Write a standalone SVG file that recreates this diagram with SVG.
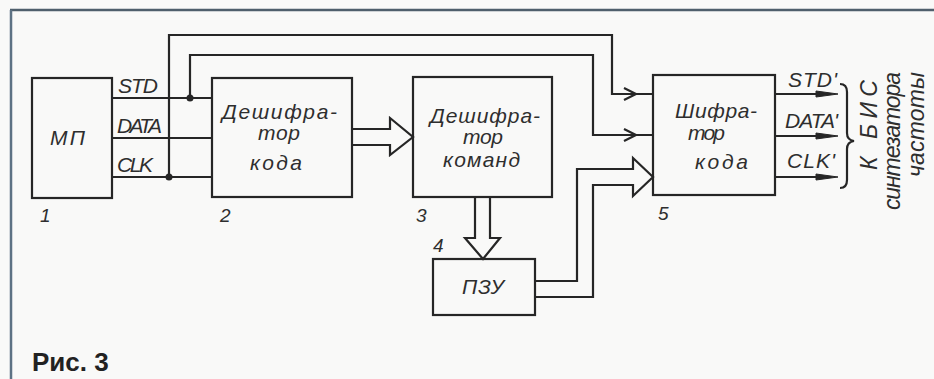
<svg xmlns="http://www.w3.org/2000/svg" width="934" height="379" viewBox="0 0 934 379">
<style>
.box{fill:none;stroke:#262626;stroke-width:2.2}
.ln{fill:none;stroke:#262626;stroke-width:2.2;stroke-linejoin:miter}
.hw{font-family:"Liberation Sans","DejaVu Sans",sans-serif;font-style:italic;font-size:21px;fill:#2e2e2e}
.vt{font-family:"Liberation Sans","DejaVu Sans",sans-serif;font-style:italic;font-size:23px;fill:#2e2e2e}
.num{font-family:"Liberation Sans","DejaVu Sans",sans-serif;font-style:italic;font-size:19px;fill:#2e2e2e}
.dot{fill:#262626}
.fa{fill:#262626;stroke:#262626;stroke-width:1}
</style>
<rect x="0" y="0" width="934" height="379" fill="#f9f9f8"/>
<g id="frame">
<line x1="10" y1="10" x2="934" y2="10" stroke="#4f5f6c" stroke-width="2.5"/>
<line x1="11" y1="10" x2="11" y2="379" stroke="#5d7284" stroke-width="2.5"/>
</g>
<g id="mp">
<rect class="box" x="32" y="78" width="80" height="120"/>
<text class="hw" x="50" y="145" textLength="35">МП</text>
<text class="num" x="40" y="222">1</text>
</g>
<g id="dec-code">
<rect class="box" x="212" y="78" width="140" height="119"/>
<text class="hw" x="222" y="119" textLength="115">Дешифра-</text>
<text class="hw" x="258" y="140" textLength="42">тор</text>
<text class="hw" x="250" y="170" textLength="52">кода</text>
<text class="num" x="220" y="222">2</text>
</g>
<g id="dec-cmd">
<rect class="box" x="413" y="77" width="139" height="120"/>
<text class="hw" x="430" y="123" textLength="110">Дешифра-</text>
<text class="hw" x="463" y="144" textLength="40">тор</text>
<text class="hw" x="443" y="167" textLength="77">команд</text>
<text class="num" x="416" y="222">3</text>
</g>
<g id="rom">
<rect class="box" x="433" y="259" width="102" height="56"/>
<text class="hw" x="462" y="294" textLength="42">ПЗУ</text>
<text class="num" x="433" y="252">4</text>
</g>
<g id="enc">
<rect class="box" x="653" y="75" width="122" height="120"/>
<text class="hw" x="675" y="118" textLength="82">Шифра-</text>
<text class="hw" x="688" y="140" textLength="37">тор</text>
<text class="hw" x="695" y="169" textLength="53">кода</text>
<text class="num" x="658" y="220">5</text>
</g>
<g id="connectors">
<line class="ln" x1="112" y1="98" x2="212" y2="98"/>
<line class="ln" x1="112" y1="138" x2="212" y2="138"/>
<line class="ln" x1="112" y1="177" x2="212" y2="177"/>
<text class="hw" x="118" y="93" textLength="40">STD</text>
<text class="hw" x="117" y="133" textLength="45">DATA</text>
<text class="hw" x="117" y="172" textLength="36">CLK</text>
<polyline class="ln" points="169,177 169,35 612,35 612,94 653,94"/>
<polyline class="ln" points="190,98 190,55 593,55 593,135 653,135"/>
<circle class="dot" cx="169" cy="177" r="3.5"/>
<circle class="dot" cx="190" cy="98" r="3.5"/>
<polyline class="ln" points="624,88 636,94 624,100"/>
<polyline class="ln" points="624,129 636,135 624,141"/>
<polyline class="ln" points="352,129 390,129 390,118 413,137 390,155 390,145 352,145"/>
<polyline class="ln" points="475,197 475,238 465,238 483,259 500,238 490,238 490,197"/>
<polyline class="ln" points="535,281 577,281 577,169 633,169 633,158 653,177 633,196 633,185 593,185 593,297 535,297"/>
<line class="ln" x1="775" y1="94" x2="820" y2="94"/>
<line class="ln" x1="775" y1="136" x2="820" y2="136"/>
<line class="ln" x1="775" y1="177" x2="820" y2="177"/>
<polygon class="fa" points="816,91 838,94 816,97"/>
<polygon class="fa" points="816,133 838,136 816,139"/>
<polygon class="fa" points="816,174 838,177 816,180"/>
<text class="hw" x="788" y="87" textLength="49">STD'</text>
<text class="hw" x="785" y="128" textLength="53">DATA'</text>
<text class="hw" x="787" y="168" textLength="48">CLK'</text>
<path class="ln" d="M840,84 Q847,84 847,92 L847,133 Q847,140 854,141 Q847,142 847,149 L847,180 Q847,188 840,188"/>
</g>
<g id="target-label">
<text class="vt" transform="translate(877,170) rotate(-90)" textLength="90">К БИС</text>
<text class="vt" transform="translate(900,210) rotate(-90)" textLength="138">синтезатора</text>
<text class="vt" transform="translate(924,177) rotate(-90)" textLength="105">частоты</text>
</g>
<text x="32" y="371" font-family="Liberation Sans, Arial, sans-serif" font-weight="bold" font-size="26" fill="#222">Рис. 3</text>
</svg>
